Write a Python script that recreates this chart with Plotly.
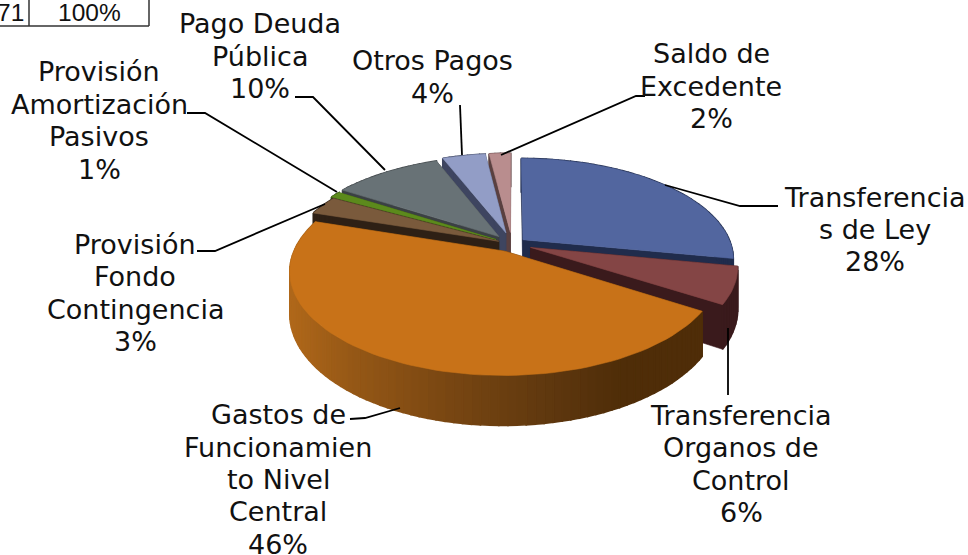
import math
import numpy as np
import plotly.graph_objects as go

# ---- data ----
categories = ["Transferencias de Ley", "Transferencia Organos de Control",
              "Gastos de Funcionamiento Nivel Central", "Provisión Fondo Contingencia",
              "Provisión Amortización Pasivos", "Pago Deuda Pública", "Otros Pagos",
              "Saldo de Excedente"]
values = [28, 6, 46, 3, 1, 10, 4, 2]
label_texts = ["Transferencia<br>s de Ley<br>28%",
               "Transferencia<br>Organos de<br>Control<br>6%",
               "Gastos de<br>Funcionamien<br>to Nivel<br>Central<br>46%",
               "Provisión<br>Fondo<br>Contingencia<br>3%",
               "Provisión<br>Amortización<br>Pasivos<br>1%",
               "Pago Deuda<br>Pública<br>10%",
               "Otros Pagos<br>4%",
               "Saldo de<br>Excedente<br>2%"]

# ---- styles and layout ----
top_colors = ["#52669f", "#844545", "#c87218", "#7a5a3c", "#5c8a1c", "#687276", "#929dc6", "#b98d8e"]
side_colors = ["#202c4c", "#3a1a1c", "#4f2d08", "#2e2015", "#2f4a10", "#3b4044", "#3e4560", "#5a4040"]
explode = [0.069, 0.095, 0.08, 0.07, 0.09, 0.10, 0.12, 0.12]
radius = [1.0, 0.97, 1.0, 1.0, 1.0, 1.0, 1.0, 1.0]
draw_order = [7, 6, 5, 4, 3, 0, 1, 2]
label_x = [875, 741, 278, 135, 99, 260, 432, 711]
label_y = [229.5, 464, 479.5, 293, 120.5, 56, 77, 86]
leaders = [[(665, 185), (740, 206), (778, 206)],
           [(728, 328), (728, 395)],
           [(400, 408), (365, 418), (350, 419)],
           [(325, 204), (215, 251), (197, 251)],
           [(337, 192), (205, 113), (187, 113)],
           [(385, 170), (313, 97), (295, 97)],
           [(462, 155), (460, 105)],
           [(501, 155), (636, 96), (645, 96)]]
CX, CY, RX, RY, K, DEPTH = 512, 244, 208, 98, 0.187, 40
FONT = "DejaVu Sans"
FONT_SIZE = 27
LINE_STEP = 32.4
INK = "#111111"


def project(px, py, z=0.0):
    w = 1.0 / (1.0 + K * py)
    return CX + RX * px * w, CY - RY * py * w + z * DEPTH * w


def poly(fig, pts, color, edge=0.6):
    xs, ys = zip(*pts)
    fig.add_trace(go.Scatter(x=list(xs) + [xs[0]], y=list(ys) + [ys[0]], mode="lines",
                             fill="toself", fillcolor=color,
                             line=dict(color=color, width=edge),
                             hoverinfo="skip", showlegend=False))


def orange_wall(x):
    stops_x = [289, 350, 450, 560, 620]
    r = np.interp(x, stops_x, [176, 150, 120, 92, 79])
    g = np.interp(x, stops_x, [104, 88, 70, 54, 45])
    b = np.interp(x, stops_x, [26, 22, 18, 14, 8])
    return f"rgb({r:.0f},{g:.0f},{b:.0f})"


fig = go.Figure()
total = sum(values)
edges = np.cumsum([0] + values) / total * 2 * math.pi

for i in draw_order:
    a0, a1 = edges[i], edges[i + 1]
    mid = (a0 + a1) / 2
    ox, oy = explode[i] * math.sin(mid), explode[i] * math.cos(mid)
    n = max(4, int((a1 - a0) / math.radians(2)))
    th = np.linspace(a0, a1, n + 1)
    rim = [(ox + radius[i] * math.sin(t), oy + radius[i] * math.cos(t)) for t in th]
    apex = (ox, oy)
    # radial faces
    for end in (rim[0], rim[-1]):
        poly(fig, [project(*apex), project(*end), project(*end, 1), project(*apex, 1)], side_colors[i])
    # outer wall
    for p, q in zip(rim[:-1], rim[1:]):
        a, b, c, d = project(*p), project(*q), project(*q, 1), project(*p, 1)
        col = orange_wall((a[0] + b[0]) / 2) if i == 2 else side_colors[i]
        poly(fig, [a, b, c, d], col, edge=1.6)
    # top face
    poly(fig, [project(*apex)] + [project(*p) for p in rim], top_colors[i])

# leader lines
for path in leaders:
    xs, ys = zip(*path)
    fig.add_trace(go.Scatter(x=xs, y=ys, mode="lines", line=dict(color="#000000", width=1.8),
                             hoverinfo="skip", showlegend=False))

# labels, one annotation per line so the line pitch stays tighter than the font's default
for t, x, y in zip(label_texts, label_x, label_y):
    rows = t.split("<br>")
    for j, row in enumerate(rows):
        fig.add_annotation(x=x, y=y + (j - (len(rows) - 1) / 2) * LINE_STEP, xref="x", yref="y",
                           text=row, showarrow=False,
                           font=dict(family=FONT, size=FONT_SIZE, color=INK),
                           align="center", xanchor="center", yanchor="middle")

# table fragment at the top left
table_lines = [[(0, 26), (149, 26)], [(29, 0), (29, 26)], [(149, 0), (149, 26)]]
for path in table_lines:
    xs, ys = zip(*path)
    fig.add_trace(go.Scatter(x=xs, y=ys, mode="lines", line=dict(color="#333333", width=1.5),
                             hoverinfo="skip", showlegend=False))
fig.add_annotation(x=26, y=12.5, xref="x", yref="y", text="71", showarrow=False, xanchor="right",
                   yanchor="middle", font=dict(family="Liberation Sans", size=24.5, color=INK))
fig.add_annotation(x=89.5, y=12.5, xref="x", yref="y", text="100%", showarrow=False, xanchor="center",
                   yanchor="middle", font=dict(family="Liberation Sans", size=24.5, color=INK))

fig.update_layout(width=968, height=555, margin=dict(l=0, r=0, t=0, b=0),
                  paper_bgcolor="white", plot_bgcolor="white", showlegend=False,
                  xaxis=dict(range=[0, 968], visible=False, fixedrange=True),
                  yaxis=dict(range=[555, 0], visible=False, fixedrange=True))
fig.write_html("out.html", config={"displayModeBar": False},
               post_script="document.body.style.margin='0';document.body.style.overflow='hidden';")
